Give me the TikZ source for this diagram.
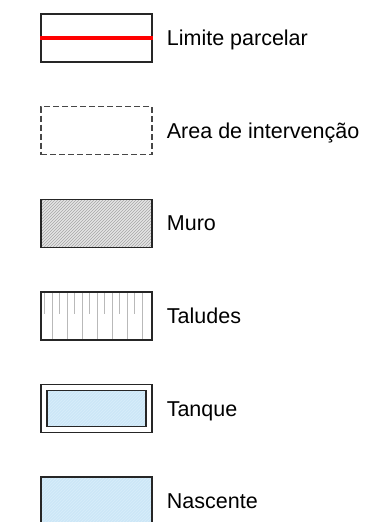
\documentclass[tikz,border=0pt]{standalone}
\usepackage{fontspec}
\setmainfont{Liberation Sans}
\usetikzlibrary{positioning,patterns}

\definecolor{agua}{RGB}{205,231,247}
\definecolor{aguaclara}{RGB}{216,238,250}
\definecolor{traco}{RGB}{38,38,38}

\tikzstyle{sym} = [rectangle, minimum width=111pt, minimum height=48pt, inner sep=0pt, draw=traco, line width=1.4pt]
\tikzstyle{lbl} = [right=14pt, inner sep=0pt, text height=15.5pt, text depth=0pt, font=\fontsize{21.5}{26}\selectfont]

\begin{document}
\begin{tikzpicture}[node distance=92.6pt]
\useasboundingbox (0pt,0pt) rectangle (369pt,-522pt);

\node[sym] (Limite) at (96.5pt,-38pt) {};
\node[sym, draw=traco!85, dash pattern=on 6pt off 3pt] (Area) [below of=Limite] {};
\node[sym, preaction={fill=gray!20}, pattern=north east lines, pattern color=gray!70] (Muro) [below of=Area] {};
\node[sym] (Taludes) [below of=Muro] {};
\node[sym, line width=1.1pt] (Tanque) [below of=Taludes] {};
\node[sym, minimum width=99pt, minimum height=36pt, preaction={fill=agua}, pattern=north east lines, pattern color=aguaclara] (TanqueIn) at (Tanque) {};
\node[sym, preaction={fill=agua}, pattern=north east lines, pattern color=aguaclara] (Nascente) [below of=Tanque] {};

% linha do limite
\draw[red, line width=4pt] (Limite.west) -- (Limite.east);

% tracos dos taludes
\foreach \k in {0,...,13} {
  \ifodd\k
    \draw[gray!55, line width=1.1pt] ([xshift=4.3pt+\k*7.5pt]Taludes.north west) -- ([xshift=4.3pt+\k*7.5pt]Taludes.south west);
  \else
    \draw[gray!55, line width=1.1pt] ([xshift=4.3pt+\k*7.5pt]Taludes.north west) -- ++(0pt,-23pt);
  \fi
}
\node[sym, fill=none] at (Taludes) {};

\node[lbl] at (Limite.east) {Limite parcelar};
\node[lbl] at (Area.east) {Area de intervenção};
\node[lbl] at (Muro.east) {Muro};
\node[lbl] at (Taludes.east) {Taludes};
\node[lbl] at (Tanque.east) {Tanque};
\node[lbl] at (Nascente.east) {Nascente};

\end{tikzpicture}
\end{document}
